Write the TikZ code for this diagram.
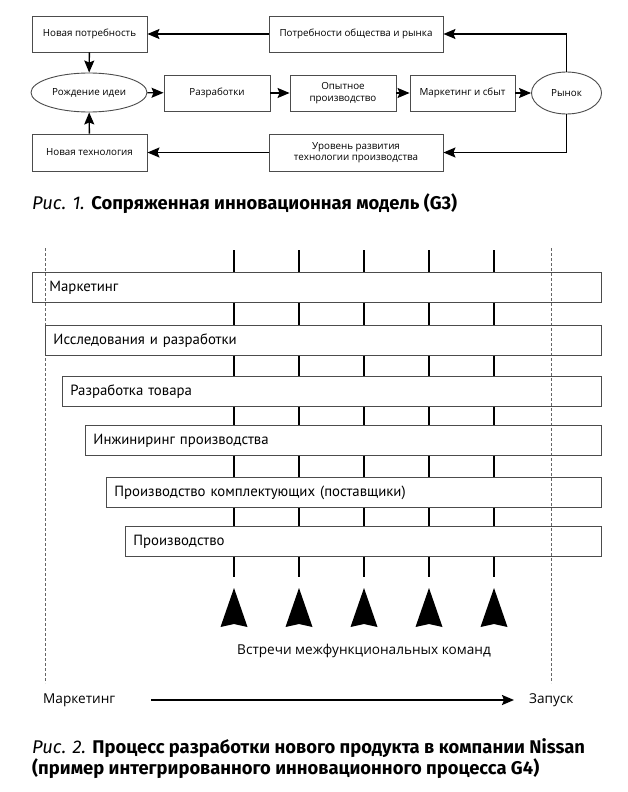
\documentclass[tikz,border=0pt]{standalone}
\usepackage{fontspec}
\setmainfont{Open Sans}
\newfontfamily\barfont{PT Sans}
\newfontfamily\capfont{Fira Sans}
\usetikzlibrary{arrows.meta,shapes.geometric,calc}

\tikzset{
  box/.style={draw=black!70, line width=0.9pt, minimum height=36pt, align=center,
    font=\fontsize{9.8}{11.5}\selectfont, inner sep=2pt},
  oval/.style={box, ellipse},
  link/.style={line width=1.4pt, -{Stealth[length=12pt,width=10pt,inset=2pt]}},
  bar/.style={draw=black!70, line width=0.9pt, minimum height=30pt, inner ysep=0pt,
    align=left, font=\barfont\fontsize{14.8}{16}\selectfont, anchor=north west},
  tick/.style={line width=1.6pt},
  guide/.style={draw=black!60, line width=0.7pt, dash pattern=on 3pt off 2pt},
  axislabel/.style={font=\fontsize{13.6}{15}\selectfont, inner sep=0pt},
  caption/.style={font=\capfont\fontsize{18.4}{18.6}\selectfont, align=left, inner sep=0pt},
}

\begin{document}
\begin{tikzpicture}[x=1pt,y=1pt,yscale=-1,xscale=1]
        \fill[white] (0,0) rectangle (627,792);
        \useasboundingbox (0,0) rectangle (627,792);

        % Fig. 1 -- coupled model
        \node[box, minimum width=115pt] (newneed) at (89.5,34) {Новая потребность};
        \node[box, minimum width=174pt] (society) at (356,34) {Потребности общества и рынка};
        \node[oval, minimum width=116pt, minimum height=39pt] (idea) at (89,92.5) {Рождение идеи};
        \node[box, minimum width=106pt] (rnd) at (217,93) {Разработки};
        \node[box, minimum width=106pt] (pilot) at (343,93) {Опытное\\производство};
        \node[box, minimum width=105pt] (sales) at (462.5,93) {Маркетинг и сбыт};
        \node[oval, minimum width=70pt, minimum height=42pt] (market) at (566.5,93) {Рынок};
        \node[box, minimum width=115pt, minimum height=37pt] (newtech) at (89.5,152.5) {Новая технология};
        \node[box, minimum width=174pt, minimum height=37pt] (techlevel) at (356,152.5) {Уровень развития\\технологии производства};

        \draw[link] (market.north) |- (society.east);
        \draw[link] (society) -- (newneed);
        \draw[link] (newneed) -- (idea);
        \draw[link] (newtech) -- (idea);
        \draw[link] (idea) -- (rnd);
        \draw[link] (rnd) -- (pilot);
        \draw[link] (pilot) -- (sales);
        \draw[link] (sales) -- (market);
        \draw[link] (market.south) |- (techlevel.east);
        \draw[link] (techlevel) -- (newtech);

        \node[caption, anchor=west] (capone) at (32,204) {\textit{Рис. 1.} \textbf{Сопряженная инновационная модель (G3)}};

        % Fig. 2 -- Nissan process
        \coordinate (startT) at (45,248);
        \coordinate (startB) at (45,683);
        \coordinate (launchT) at (551,248);
        \coordinate (launchB) at (551,683);
        \draw[guide] (startT) -- (startB);
        \draw[guide] (launchT) -- (launchB);

        \foreach \name/\x/\y/\pad/\txt in {mkt/32/272/17/Маркетинг, research/45/325/8/Исследования и разработки,
            product/62/376/8/Разработка товара, engin/85/425/8/Инжиниринг производства,
            supply/106/477/8/Производство комплектующих (поставщики), mfg/125/526/8/Производство}
        {
          \pgfmathsetmacro\tw{601-\x-2*\pad}
          \node[bar, inner xsep=\pad pt, text width=\tw pt] (\name) at (\x,\y) {\txt};
        }

        \foreach \c in {234,299,364,429,494}
        {
          \coordinate (top\c) at (\c,250);
          \coordinate (bot\c) at (\c,577);
          \draw[tick] (top\c) -- (top\c |- mkt.north);
          \foreach \a/\b in {mkt/research, research/product, product/engin, engin/supply, supply/mfg}
            \draw[tick] (top\c |- \a.south) -- (top\c |- \b.north);
          \draw[tick] (bot\c |- mfg.south) -- (bot\c);
          \fill (\c,588) -- ({\c+13.5},627) -- (\c,624) -- ({\c-13.5},627) -- cycle;
        }

        \node[axislabel] (meet) at (364,651) {Встречи межфункциональных команд};
        \node[axislabel, anchor=west] (axstart) at (43,700) {Маркетинг};
        \node[axislabel, anchor=west] (axend) at (529,700) {Запуск};
        \draw[link, line width=2pt, shorten <=36pt, shorten >=15pt] (axstart.east) -- (axend.west);

        \node[caption, anchor=north west] (captwo) at (32,738) {\textit{Рис. 2.} \textbf{Процесс разработки нового продукта в компании Nissan}\\
          \textbf{(пример интегрированного инновационного процесса G4)}};
\end{tikzpicture}
\end{document}
